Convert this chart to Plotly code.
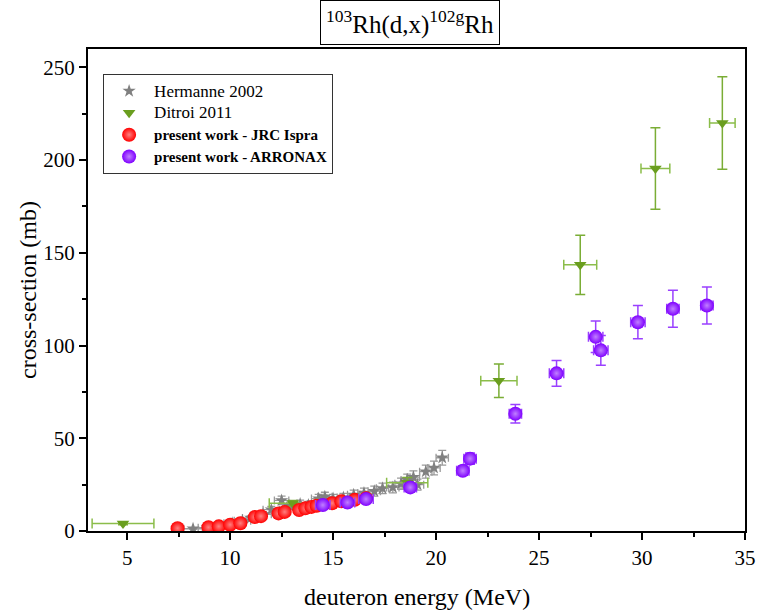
import plotly.graph_objects as go

# Hermanne 2002
her_x = [8.2, 8.9, 9.5, 10.1, 10.6, 11.0, 11.6, 12.0, 12.5, 12.9, 13.4, 13.8, 14.3, 14.6, 15.0, 15.5, 16.0, 16.5, 17.0, 17.4, 17.9, 18.3, 18.6, 18.9, 19.1, 19.5, 19.9, 20.3]
her_y = [1.2, 1.8, 2.6, 4.2, 5.5, 7.0, 9.0, 11.5, 16.5, 13.5, 14.5, 14.0, 17.5, 18.5, 17.5, 18.0, 19.5, 20.5, 21.5, 23.0, 23.5, 25.5, 27.5, 29.0, 25.0, 32.0, 34.0, 39.5]
her_xe = [0.45, 0.45, 0.45, 0.4, 0.4, 0.4, 0.4, 0.4, 0.35, 0.35, 0.35, 0.35, 0.35, 0.35, 0.3, 0.3, 0.3, 0.3, 0.3, 0.3, 0.3, 0.3, 0.3, 0.3, 0.3, 0.3, 0.3, 0.3]
her_ye = [0.3, 0.4, 0.5, 0.8, 1.0, 1.2, 1.5, 1.8, 2.3, 2.0, 2.1, 2.0, 2.3, 2.4, 2.3, 2.3, 2.5, 2.6, 2.7, 2.8, 2.9, 3.0, 3.2, 3.4, 3.0, 3.5, 3.7, 4.0]

# Ditroi 2011
dit_x = [4.8, 13.05, 18.6, 23.05, 27.0, 30.65, 33.9]
dit_y = [4.0, 15.0, 26.0, 81.0, 143.5, 195.5, 220.0]
dit_xe = [1.5, 1.15, 1.0, 0.88, 0.8, 0.7, 0.62]
dit_ye = [0.6, 1.5, 2.8, 9.0, 16.0, 22.0, 25.0]

# present work - JRC Ispra
jrc_x = [7.45, 8.95, 9.45, 10.0, 10.5, 11.2, 11.5, 12.35, 12.65, 13.35, 13.65, 13.95, 14.2, 14.95, 15.4, 16.05, 16.6]
jrc_y = [1.5, 2.0, 2.5, 3.4, 4.2, 7.5, 8.0, 9.5, 10.3, 11.3, 12.2, 13.0, 13.6, 15.0, 16.0, 16.8, 17.6]
jrc_xe = [0.15, 0.15, 0.15, 0.15, 0.15, 0.2, 0.2, 0.2, 0.2, 0.2, 0.2, 0.2, 0.2, 0.2, 0.2, 0.2, 0.2]
jrc_ye = [0.3, 0.3, 0.3, 0.4, 0.5, 0.8, 0.9, 1.0, 1.1, 1.2, 1.3, 1.4, 1.4, 1.6, 1.7, 1.8, 1.9]

# present work - ARRONAX
arr_x = [14.5, 15.7, 16.6, 18.75, 21.3, 21.65, 23.85, 25.85, 27.75, 28.0, 29.8, 31.5, 33.15]
arr_y = [14.0, 15.4, 17.2, 23.5, 32.5, 39.0, 63.2, 85.0, 104.7, 97.4, 112.6, 119.8, 121.6]
arr_xe = [0.35, 0.35, 0.35, 0.3, 0.3, 0.3, 0.3, 0.35, 0.35, 0.35, 0.35, 0.3, 0.3]
arr_ye = [1.0, 1.1, 1.2, 1.7, 2.5, 3.0, 5.0, 7.0, 8.5, 8.0, 9.0, 10.0, 10.0]

FONT = "Liberation Serif"

fig = go.Figure()

fig.add_trace(go.Scatter(
    x=her_x, y=her_y, mode="markers",
    name='<span style="font-size:17px">Hermanne 2002</span>',
    marker=dict(symbol="star", size=10, color="#808080"),
    error_x=dict(type="data", array=her_xe, color="#9a9a9a", thickness=1.3, width=4),
    error_y=dict(type="data", array=her_ye, color="#9a9a9a", thickness=1.3, width=4),
))
fig.add_trace(go.Scatter(
    x=dit_x, y=dit_y, mode="markers",
    name='<span style="font-size:17px">Ditroi 2011</span>',
    marker=dict(symbol="triangle-down", size=11, color="#6a9e1f"),
    error_x=dict(type="data", array=dit_xe, color="#8bbd4a", thickness=1.5, width=5),
    error_y=dict(type="data", array=dit_ye, color="#7aad35", thickness=1.5, width=5),
))
fig.add_trace(go.Scatter(
    x=jrc_x, y=jrc_y, mode="markers",
    name='<span style="font-size:15px"><b>present work - JRC Ispra</b></span>',
    marker=dict(symbol="circle", size=14, color="#ff0000",
                gradient=dict(type="radial", color="#ff8080")),
    error_x=dict(type="data", array=jrc_xe, color="#ff2020", thickness=1.5, width=4),
    error_y=dict(type="data", array=jrc_ye, color="#ff2020", thickness=1.5, width=4),
))
fig.add_trace(go.Scatter(
    x=arr_x, y=arr_y, mode="markers",
    name='<span style="font-size:15px"><b>present work - ARRONAX</b></span>',
    marker=dict(symbol="circle", size=14, color="#7f00ff",
                gradient=dict(type="radial", color="#c080ff")),
    error_x=dict(type="data", array=arr_xe, color="#9a40ff", thickness=1.5, width=5),
    error_y=dict(type="data", array=arr_ye, color="#9a40ff", thickness=1.5, width=5),
))

fig.update_layout(
    width=757, height=614,
    margin=dict(l=88, r=12, t=49, b=83),
    paper_bgcolor="white", plot_bgcolor="white",
    font=dict(family=FONT, size=20, color="black"),
    showlegend=True,
    legend=dict(
        x=0.023, y=0.948, xanchor="left", yanchor="top",
        bordercolor="#333333", borderwidth=1, bgcolor="white",
        font=dict(family=FONT, size=14.5, color="black"),
        tracegroupgap=0, itemwidth=40,
    ),
    annotations=[
        dict(
            text="<sup>103</sup>Rh(d,x)<sup>102g</sup>Rh",
            xref="paper", yref="paper", x=0.5, y=1.0, yshift=4, xshift=-7,
            xanchor="center", yanchor="bottom", showarrow=False,
            font=dict(family=FONT, size=25, color="black"),
            bordercolor="black", borderwidth=1, borderpad=5,
        ),
        dict(
            text="deuteron energy (MeV)",
            xref="paper", yref="paper", x=0.5, y=-0.137,
            xanchor="center", yanchor="middle", showarrow=False,
            font=dict(family=FONT, size=24, color="black"),
        ),
        dict(
            text="cross-section (mb)", textangle=-90,
            xref="paper", yref="paper", x=-0.0913, y=0.5,
            xanchor="center", yanchor="middle", showarrow=False,
            font=dict(family=FONT, size=24, color="black"),
        ),
    ],
)

fig.update_xaxes(
    range=[3.1, 35.0], showgrid=False, zeroline=False, automargin=False,
    showline=True, linecolor="black", linewidth=2, mirror=True,
    ticks="outside", ticklen=7, tickwidth=2, tickcolor="black",
    tick0=0, dtick=5,
    minor=dict(ticks="outside", ticklen=4, tickwidth=1.5, tickcolor="black", dtick=2.5, tick0=0),
    tickfont=dict(family=FONT, size=21),
)
fig.update_yaxes(
    range=[0, 259.9], showgrid=False, zeroline=False, automargin=False,
    showline=True, linecolor="black", linewidth=2, mirror=True,
    ticks="outside", ticklen=7, tickwidth=2, tickcolor="black",
    tick0=0, dtick=50,
    minor=dict(ticks="outside", ticklen=4, tickwidth=1.5, tickcolor="black", dtick=25, tick0=0),
    tickfont=dict(family=FONT, size=21),
)

fig.write_html("out.html")
